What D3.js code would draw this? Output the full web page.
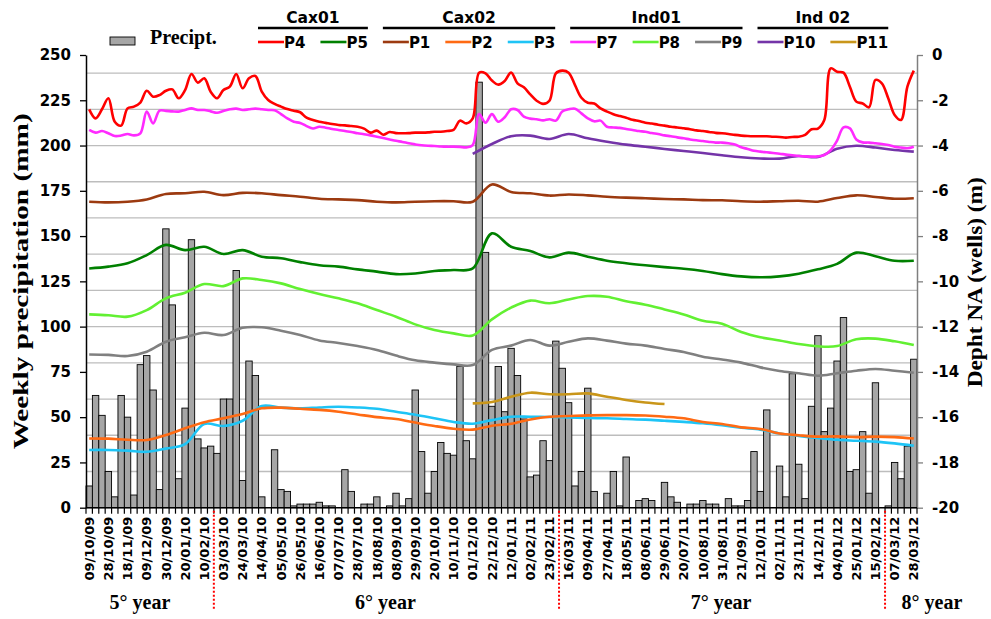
<!DOCTYPE html>
<html>
<head>
<meta charset="utf-8">
<script src="https://cdn.jsdelivr.net/npm/d3@7"></script>
<style>
  body { margin: 0; background: #fff; }
  svg { display: block; }
</style>
</head>
<body>
<div id="chart"></div>
<script>
// x tick labels, one every 3 weeks
const tickLabels = ["09/10/09","28/10/09","18/11/09","09/12/09","30/12/09","20/01/10","10/02/10","03/03/10",
  "24/03/10","14/04/10","05/05/10","26/05/10","16/06/10","07/07/10","28/07/10","18/08/10","08/09/10",
  "29/09/10","20/10/10","10/11/10","01/12/10","22/12/10","12/01/11","02/02/11","23/02/11","16/03/11",
  "09/04/11","27/04/11","18/05/11","08/06/11","29/06/11","20/07/11","10/08/11","31/08/11","21/09/11",
  "12/10/11","02/11/11","23/11/11","14/12/11","04/01/12","25/01/12","15/02/12","07/03/12","28/03/12"];
const labelEvery = 3;

// weekly precipitation (mm), one value per week
const precip = [12,62,51,20,6,62,50,7,79,84,65,10,154,112,16,55,148,38,33,34,
  30,60,60,131,15,81,73,6,0,32,10,9,1,2,2,2,3,1,1,0,
  21,9,0,2,2,6,0,1,8,1,5,65,31,8,20,36,30,29,78,37,
  27,235,141,56,78,53,88,73,49,17,18,37,26,92,77,58,12,20,66,9,
  0,8,20,1,28,0,4,5,4,0,14,6,3,0,2,2,4,2,2,0,
  5,1,1,4,31,9,54,0,23,6,74,24,5,56,95,42,55,81,105,20,
  21,42,8,69,0,1,25,16,34,82];

// well water depth (m), weekly for the wavy wells
const p4 = [-2.40,-2.80,-2.40,-1.91,-2.95,-3.12,-2.36,-2.28,-2.10,-1.58,-1.84,-1.77,-1.58,-1.52,-1.91,-1.55,
  -0.84,-1.22,-1.03,-1.62,-1.91,-1.55,-1.40,-0.84,-1.47,-1.03,-0.93,-1.62,-1.99,-2.16,-2.28,-2.39,
  -2.46,-2.53,-2.77,-2.87,-2.95,-3.00,-3.05,-3.09,-3.11,-3.14,-3.17,-3.25,-3.43,-3.34,-3.52,-3.40,
  -3.45,-3.46,-3.45,-3.43,-3.43,-3.42,-3.39,-3.39,-3.36,-3.31,-2.90,-3.02,-2.80,-0.78,-0.81,-1.13,
  -1.31,-1.15,-0.77,-1.25,-1.43,-1.74,-2.02,-2.16,-2.02,-0.81,-0.69,-0.78,-1.33,-1.89,-2.11,-2.14,
  -2.36,-2.50,-2.62,-2.70,-2.77,-2.86,-2.92,-2.99,-3.03,-3.08,-3.12,-3.17,-3.20,-3.24,-3.28,-3.33,
  -3.36,-3.40,-3.44,-3.46,-3.49,-3.53,-3.56,-3.58,-3.59,-3.59,-3.59,-3.61,-3.62,-3.65,-3.62,-3.61,
  -3.53,-3.28,-3.25,-2.87,-0.59,-0.74,-0.78,-1.40,-2.06,-2.14,-2.31,-1.10,-1.25,-1.91,-2.65,-2.87,
  -1.40,-0.69];
const p7 = [-3.31,-3.43,-3.36,-3.46,-3.58,-3.56,-3.49,-3.55,-3.46,-2.50,-3.02,-2.46,-2.47,-2.49,-2.50,-2.43,
  -2.36,-2.43,-2.43,-2.49,-2.55,-2.47,-2.40,-2.37,-2.43,-2.40,-2.37,-2.40,-2.43,-2.44,-2.61,-2.80,
  -2.95,-3.00,-3.14,-3.25,-3.17,-3.21,-3.27,-3.31,-3.36,-3.40,-3.46,-3.50,-3.55,-3.61,-3.67,-3.73,
  -3.79,-3.84,-3.90,-3.95,-3.99,-4.01,-4.02,-4.04,-4.05,-4.05,-4.06,-4.08,-3.98,-2.61,-2.99,-2.61,
  -2.95,-2.75,-2.40,-2.43,-2.72,-2.81,-2.84,-2.89,-2.84,-2.90,-2.50,-2.40,-2.37,-2.58,-2.80,-2.93,
  -2.90,-3.17,-3.20,-3.22,-3.27,-3.31,-3.36,-3.39,-3.45,-3.49,-3.55,-3.59,-3.64,-3.68,-3.73,-3.77,
  -3.80,-3.84,-3.87,-3.87,-3.90,-3.95,-4.08,-4.15,-4.23,-4.27,-4.30,-4.33,-4.36,-4.40,-4.43,-4.46,
  -4.48,-4.49,-4.48,-4.42,-4.20,-3.78,-3.20,-3.24,-3.73,-3.86,-3.87,-3.90,-3.93,-3.98,-4.05,-4.09,
  -4.12,-4.05];

// the smoother wells, read every 3 weeks (same weeks as the tick labels)
const p1 = [-6.48,-6.51,-6.48,-6.38,-6.14,-6.11,-6.04,-6.19,-6.09,-6.11,-6.19,-6.26,-6.35,-6.38,-6.41,
  -6.48,-6.51,-6.48,-6.46,-6.46,-6.48,-5.72,-6.05,-6.11,-6.21,-6.16,-6.20,-6.26,-6.30,-6.33,-6.36,
  -6.38,-6.41,-6.42,-6.46,-6.48,-6.46,-6.44,-6.48,-6.32,-6.20,-6.27,-6.35,-6.33];
const p5 = [-9.43,-9.35,-9.20,-8.84,-8.39,-8.62,-8.47,-8.79,-8.62,-8.91,-8.98,-9.15,-9.29,-9.35,-9.47,
  -9.57,-9.68,-9.65,-9.54,-9.50,-9.43,-7.88,-8.47,-8.66,-8.94,-8.73,-8.91,-9.09,-9.20,-9.29,-9.37,
  -9.44,-9.54,-9.68,-9.78,-9.82,-9.78,-9.66,-9.47,-9.23,-8.73,-8.89,-9.09,-9.09];
const p8 = [-11.46,-11.50,-11.56,-11.27,-10.75,-10.50,-10.12,-10.21,-9.87,-9.94,-10.09,-10.34,-10.56,-10.75,
  -10.97,-11.27,-11.56,-11.90,-12.15,-12.30,-12.39,-11.68,-11.16,-10.85,-10.97,-10.80,-10.65,-10.68,
  -10.88,-11.03,-11.24,-11.46,-11.74,-11.87,-12.24,-12.47,-12.61,-12.77,-12.87,-12.86,-12.56,-12.53,
  -12.65,-12.81];
const p9 = [-13.23,-13.25,-13.30,-13.11,-12.67,-12.47,-12.27,-12.37,-12.05,-12.03,-12.18,-12.37,-12.61,-12.72,
  -12.86,-13.03,-13.28,-13.49,-13.59,-13.67,-13.70,-13.03,-12.84,-12.59,-12.84,-12.67,-12.52,-12.62,
  -12.75,-12.84,-12.99,-13.12,-13.33,-13.45,-13.59,-13.80,-13.96,-14.06,-14.17,-14.06,-13.95,-13.87,
  -13.95,-14.04];
const p2 = [-16.94,-16.95,-17.00,-17.01,-16.79,-16.49,-16.22,-16.05,-15.86,-15.61,-15.58,-15.63,-15.68,-15.76,
  -15.88,-16.00,-16.08,-16.24,-16.39,-16.51,-16.55,-16.38,-16.29,-16.10,-15.98,-15.95,-15.92,-15.91,
  -15.91,-15.93,-15.98,-16.05,-16.21,-16.30,-16.45,-16.52,-16.72,-16.80,-16.86,-16.85,-16.88,-16.86,
  -16.88,-16.94];
const p3 = [-17.45,-17.45,-17.48,-17.53,-17.39,-17.19,-16.30,-16.39,-16.16,-15.51,-15.58,-15.61,-15.57,-15.54,
  -15.57,-15.63,-15.76,-15.89,-16.05,-16.21,-16.29,-16.13,-15.98,-15.98,-15.99,-16.01,-16.04,-16.05,
  -16.08,-16.11,-16.16,-16.21,-16.27,-16.36,-16.47,-16.55,-16.72,-16.83,-16.92,-17.00,-17.04,-17.08,
  -17.16,-17.26];
const p10 = [null,null,null,null,null,null,null,null,null,null,null,null,null,null,null,null,null,null,null,null,
  -4.37,-3.93,-3.59,-3.56,-3.71,-3.49,-3.68,-3.83,-3.96,-4.05,-4.15,-4.24,-4.33,-4.43,-4.52,-4.57,
  -4.58,-4.46,-4.51,-4.14,-4.01,-4.09,-4.20,-4.27];
const p11 = [null,null,null,null,null,null,null,null,null,null,null,null,null,null,null,null,null,null,null,null,
  -15.39,-15.33,-15.10,-14.92,-14.99,-14.99,-14.95,-15.10,-15.24,-15.35,-15.42,
  null,null,null,null,null,null,null,null,null,null,null,null,null];

// first week of each hydrological year (red dotted separators) and year names
const yearStarts = [20, 74, 125];
const yearNames = ["5\u00b0 year", "6\u00b0 year", "7\u00b0 year", "8\u00b0 year"];

// legend groups
const groups = [
  { title: "Cax01", wells: ["P4", "P5"] },
  { title: "Cax02", wells: ["P1", "P2", "P3"] },
  { title: "Ind01", wells: ["P7", "P8", "P9"] },
  { title: "Ind 02", wells: ["P10", "P11"] }
];

const wells = {
  P4:  { color: "#ff0000", values: p4,  step: 1 },
  P5:  { color: "#008000", values: p5,  step: labelEvery },
  P1:  { color: "#9c3a10", values: p1,  step: labelEvery },
  P2:  { color: "#ff6a13", values: p2,  step: labelEvery },
  P3:  { color: "#1ec4f6", values: p3,  step: labelEvery },
  P7:  { color: "#ff2bff", values: p7,  step: 1 },
  P8:  { color: "#62f032", values: p8,  step: labelEvery },
  P9:  { color: "#808080", values: p9,  step: labelEvery },
  P10: { color: "#7434a8", values: p10, step: labelEvery },
  P11: { color: "#c9961a", values: p11, step: labelEvery }
};
const drawOrder = ["P11", "P10", "P9", "P8", "P3", "P2", "P1", "P5", "P7", "P4"];

const W = 991, H = 619;
const plotL = 86, plotR = 917, plotT = 55, plotB = 507.7;
const sans = "'DejaVu Sans', sans-serif";
const serif = "'Liberation Serif', 'Times New Roman', serif";

const svg = d3.select("#chart").append("svg")
  .attr("width", W).attr("height", H);

const x = d3.scaleBand()
  .domain(d3.range(precip.length))
  .range([plotL, plotR])
  .padding(0);
const yL = d3.scaleLinear().domain([0, 250]).range([plotB, plotT]);
const yR = d3.scaleLinear().domain([-20, 0]).range([plotB, plotT]);

// gridlines
svg.append("g")
  .selectAll("line")
  .data(yL.ticks(10).filter(d => d > 0))
  .join("line")
  .attr("x1", plotL).attr("x2", plotR)
  .attr("y1", d => yL(d)).attr("y2", d => yL(d))
  .attr("stroke", "#bdbdbd")
  .attr("stroke-width", 1.3);

// precipitation bars
svg.append("g")
  .selectAll("rect")
  .data(precip)
  .join("rect")
  .attr("x", (d, i) => x(i))
  .attr("y", d => yL(d))
  .attr("width", x.bandwidth())
  .attr("height", d => yL(0) - yL(d))
  .attr("fill", "#a6a6a6")
  .attr("stroke", "#000")
  .attr("stroke-width", 0.9);

// well lines
const cx = i => x(i) + x.bandwidth() / 2;
drawOrder.forEach(name => {
  const w = wells[name];
  const pts = w.values
    .map((v, k) => ({ week: k * w.step, v }))
    .filter(p => p.v !== null);
  const line = d3.line()
    .x(p => cx(p.week))
    .y(p => yR(p.v))
    .curve(d3.curveCatmullRom.alpha(0.5));
  svg.append("path")
    .datum(pts)
    .attr("d", line)
    .attr("fill", "none")
    .attr("stroke", w.color)
    .attr("stroke-width", 2.6)
    .attr("stroke-linejoin", "round");
});

// left axis
const axL = svg.append("g")
  .attr("transform", `translate(${plotL},0)`)
  .call(d3.axisLeft(yL).tickValues(d3.range(0, 251, 25)).tickSize(6).tickSizeOuter(0).tickPadding(9));
axL.select(".domain").attr("stroke", "#000").attr("stroke-width", 1.5);
axL.selectAll(".tick line").attr("stroke", "#000").attr("stroke-width", 1.3);
axL.selectAll("text")
  .attr("font-family", sans).attr("font-weight", "bold").attr("font-size", 15).attr("fill", "#000");

// right axis
const axR = svg.append("g")
  .attr("transform", `translate(${plotR},0)`)
  .call(d3.axisRight(yR).tickValues(d3.range(-20, 1, 2)).tickFormat(d => String(d))
    .tickSize(6).tickSizeOuter(0).tickPadding(9));
axR.select(".domain").attr("stroke", "#7f7f7f").attr("stroke-width", 1.5);
axR.selectAll(".tick line").attr("stroke", "#7f7f7f").attr("stroke-width", 1.3);
axR.selectAll("text")
  .attr("font-family", sans).attr("font-weight", "bold").attr("font-size", 15).attr("fill", "#000");

// bottom axis line with a tick at each week boundary
svg.append("line")
  .attr("x1", plotL).attr("x2", plotR)
  .attr("y1", plotB).attr("y2", plotB)
  .attr("stroke", "#000").attr("stroke-width", 1.5);
svg.append("g")
  .selectAll("line")
  .data(d3.range(precip.length + 1))
  .join("line")
  .attr("x1", i => i < precip.length ? x(i) : plotR)
  .attr("x2", i => i < precip.length ? x(i) : plotR)
  .attr("y1", plotB).attr("y2", plotB + 6)
  .attr("stroke", "#000").attr("stroke-width", 1.2);

// date labels
svg.append("g")
  .selectAll("text")
  .data(tickLabels)
  .join("text")
  .attr("transform", (d, k) => `translate(${cx(k * labelEvery)},${plotB + 9}) rotate(-90)`)
  .attr("text-anchor", "end")
  .attr("dy", "0.36em")
  .attr("font-family", sans).attr("font-weight", "bold").attr("font-size", 13)
  .text(d => d);

// year separators and year names
svg.append("g")
  .selectAll("line")
  .data(yearStarts)
  .join("line")
  .attr("x1", d => x(d)).attr("x2", d => x(d))
  .attr("y1", plotB + 3).attr("y2", 610)
  .attr("stroke", "#ff0000").attr("stroke-width", 2)
  .attr("stroke-dasharray", "2,2");

const yearBounds = [0, ...yearStarts, precip.length];
svg.append("g")
  .selectAll("text")
  .data(yearNames)
  .join("text")
  .attr("x", (d, k) => {
    if (k === 0) return 140;
    if (k === yearNames.length - 1) return 932;
    return (x(yearBounds[k]) + x(yearBounds[k + 1])) / 2 - 1;
  })
  .attr("y", 609)
  .attr("text-anchor", "middle")
  .attr("font-family", serif).attr("font-weight", "bold").attr("font-size", 20)
  .text(d => d);

// axis titles
svg.append("text")
  .attr("transform", `translate(28,${(plotT + plotB) / 2}) rotate(-90)`)
  .attr("text-anchor", "middle")
  .attr("font-family", serif).attr("font-weight", "bold").attr("font-size", 22)
  .attr("textLength", 336).attr("lengthAdjust", "spacingAndGlyphs")
  .text("Weekly precipitation (mm)");
svg.append("text")
  .attr("transform", `translate(982,${(plotT + plotB) / 2 + 1}) rotate(-90)`)
  .attr("text-anchor", "middle")
  .attr("font-family", serif).attr("font-weight", "bold").attr("font-size", 22)
  .attr("textLength", 210).attr("lengthAdjust", "spacingAndGlyphs")
  .text("Depht NA (wells) (m)");

// legend: precipitation box
const leg = svg.append("g");
leg.append("rect")
  .attr("x", 110).attr("y", 37).attr("width", 25).attr("height", 8)
  .attr("fill", "#a6a6a6").attr("stroke", "#000").attr("stroke-width", 0.9);
leg.append("text")
  .attr("x", 150).attr("y", 44)
  .attr("font-family", serif).attr("font-weight", "bold").attr("font-size", 20)
  .text("Precipt.");

// legend: wells grouped by site
let lx = 258;
const legendY = 42;
groups.forEach(g => {
  const gStart = lx;
  let gEnd = lx;
  g.wells.forEach(name => {
    leg.append("line")
      .attr("x1", lx).attr("x2", lx + 26)
      .attr("y1", legendY).attr("y2", legendY)
      .attr("stroke", wells[name].color).attr("stroke-width", 2.6);
    const t = leg.append("text")
      .attr("x", lx + 26).attr("y", legendY + 5.5)
      .attr("font-family", sans).attr("font-weight", "bold").attr("font-size", 15)
      .text(name);
    const tw = t.node().getComputedTextLength();
    gEnd = lx + 26 + tw;
    lx = gEnd + 15;
  });
  leg.append("line")
    .attr("x1", gStart).attr("x2", gEnd)
    .attr("y1", 28).attr("y2", 28)
    .attr("stroke", "#000").attr("stroke-width", 2.6);
  leg.append("text")
    .attr("x", (gStart + gEnd) / 2).attr("y", 23)
    .attr("text-anchor", "middle")
    .attr("font-family", sans).attr("font-weight", "bold").attr("font-size", 15.5)
    .text(g.title);
});
</script>
</body>
</html>
